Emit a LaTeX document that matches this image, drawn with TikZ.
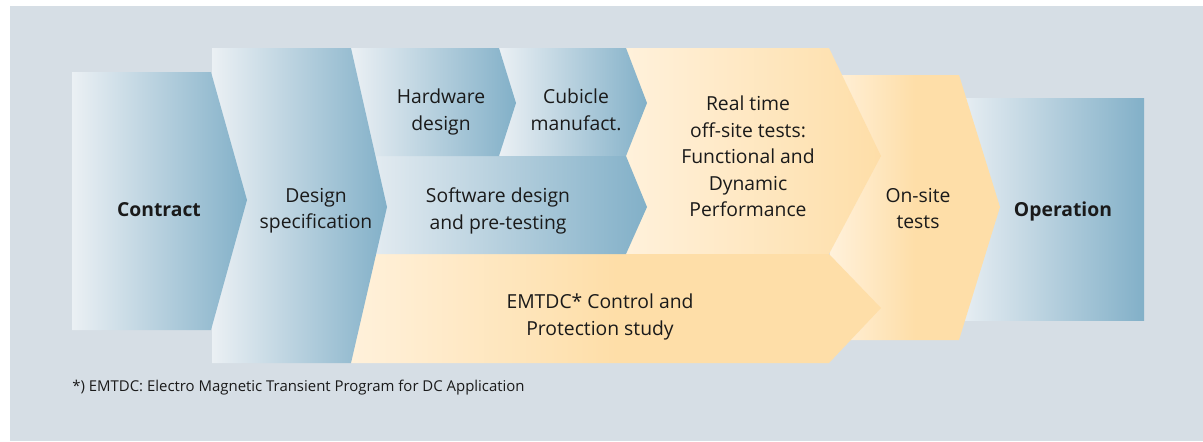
\documentclass[tikz,border=0pt]{standalone}
\usepackage{fontspec}
\setmainfont{Open Sans}
\usepackage{tikz}
\usetikzlibrary{calc}
\definecolor{panelgray}{HTML}{D6DEE5}
\definecolor{blueL}{HTML}{EBF0F4}
\definecolor{blueD}{HTML}{82B0C8}
\definecolor{orangeL}{HTML}{FFF1DB}
\definecolor{orangeD}{HTML}{FEDEA8}
\definecolor{txt}{HTML}{1A1A1A}
\def\stage[#1](#2,#3)(#4,#5)(#6,#7){\shade[#1] (#2,#3) -- (#4,#3) -- (#6,#7) -- (#4,#5) -- (#2,#5) -- cycle;}
\tikzset{
	bluestage/.style={left color=blueL, right color=blueD},
	orangestage/.style={left color=orangeL, right color=orangeD},
	stagetext/.style={align=center, text=txt, inner sep=0pt, font=\fontsize{11}{15.1}\selectfont,
		execute at begin node=\strut, execute at end node=\strut},
	notetext/.style={text=txt, inner sep=0pt, font=\fontsize{8.5}{10}\selectfont}
}

\begin{document}
\begin{tikzpicture}[x=0.02cm, y=-0.02cm]
			%%%%% START %%%%%
			
			\useasboundingbox (0, 0) rectangle (1203, 441);
			\fill[panelgray] (10, 6) rectangle (1203, 441);
			
			\shade[bluestage] (955, 98) rectangle (1144, 320);
			\stage[orangestage, middle color=orangeD](830,75)(959,340)(1000,207);
			
			\stage[orangestage](626,48)(829,254)(881,156);
			\stage[orangestage, middle color=orangeD](351,254)(829,363)(881,308);
			
			\stage[bluestage](499,48)(626,156)(647,103);
			\stage[bluestage](351,156)(626,254)(647,207);
			\stage[bluestage](351,48)(499,156)(516,103);
			
			\stage[bluestage](212,48)(351,363)(387,207);
			\stage[bluestage](72,72)(211,330)(247,200);
			
			\node[stagetext] (contract) at (159, 211) {\bfseries Contract};
			\node[stagetext] (designspec) at (316, 212.5) {Design\\specification};
			\node[stagetext] (hardware) at (441, 113.5) {Hardware\\design};
			\node[stagetext] (cubicle) at (576, 113.5) {Cubicle\\manufact.};
			\node[stagetext] (software) at (498, 212.5) {Software design\\and pre-testing};
			\node[stagetext] (realtime) at (748, 160.5) {Real time\\off-site tests:\\Functional and\\Dynamic\\Performance};
			\node[stagetext] (emtdc) at (600, 318.5) {EMTDC* Control and\\Protection study};
			\node[stagetext] (onsite) at (918, 212.5) {On-site\\tests};
			\node[stagetext] (operation) at (1063, 211) {\bfseries Operation};
			
			\node[notetext, anchor=base west] (footnote) at (72, 391.5) {*) EMTDC: Electro Magnetic Transient Program for DC Application};
			
			%%%%% END %%%%%
		\end{tikzpicture}
\end{document}
